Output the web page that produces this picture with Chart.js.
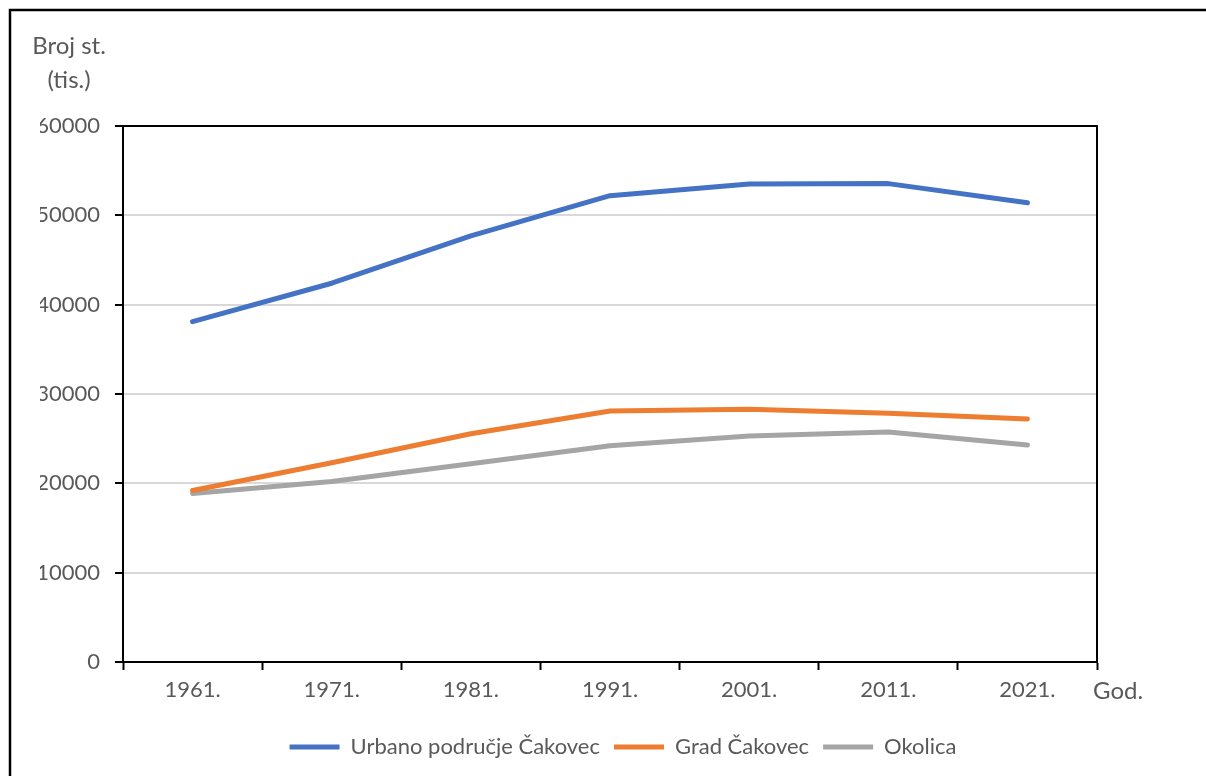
<!DOCTYPE html>
<html>
<head>
<meta charset="utf-8">
<script src="https://cdn.jsdelivr.net/npm/chart.js@4/dist/chart.umd.min.js"></script>
<style>
  html, body { margin: 0; padding: 0; background: #fff; }
  #wrap { position: relative; width: 1206px; height: 776px; }
</style>
</head>
<body>
<div id="wrap"><canvas id="popChart"></canvas></div>
<script>
  // popis stanovništva, urbano područje Čakovec
  var years = ['1961.', '1971.', '1981.', '1991.', '2001.', '2011.', '2021.'];
  var urbano = [38100, 42400, 47700, 52200, 53500, 53550, 51400];
  var grad = [19200, 22300, 25550, 28100, 28300, 27850, 27200];
  var okolica = [18850, 20200, 22200, 24200, 25300, 25750, 24300];
  var yTicks = [0, 10000, 20000, 30000, 40000, 50000, 60000];

  var FONT = 'Lato, "Open Sans", sans-serif';
  var TEXT = '#595959';
  var BLUE = '#4472C4';
  var ORANGE = '#ED7D31';
  var GREY = '#A5A5A5';

  Chart.defaults.font.family = FONT;
  Chart.defaults.font.size = 22;
  Chart.defaults.color = TEXT;

  var extras = {
    id: 'extras',
    afterDraw: function (chart) {
      var ctx = chart.ctx;
      var a = chart.chartArea;
      ctx.save();
      // okvir grafikona
      ctx.strokeStyle = '#000';
      ctx.lineWidth = 2.5;
      ctx.beginPath();
      ctx.moveTo(10, chart.height);
      ctx.lineTo(10, 10);
      ctx.lineTo(chart.width, 10);
      ctx.stroke();
      // naslovi osi
      ctx.font = '24px ' + FONT;
      ctx.fillStyle = TEXT;
      ctx.textAlign = 'center';
      ctx.textBaseline = 'middle';
      ctx.fillText('Broj st.', a.left - 54, a.top - 80);
      ctx.fillText('(tis.)', a.left - 54, a.top - 46);
      ctx.textAlign = 'left';
      ctx.fillText('God.', a.right - 4, a.bottom + 29);
      ctx.restore();
    }
  };

  function line(label, data, color) {
    return {
      label: label,
      data: data,
      borderColor: color,
      backgroundColor: color,
      borderWidth: 5,
      borderCapStyle: 'round',
      borderJoinStyle: 'round',
      pointRadius: 0,
      pointHoverRadius: 0,
      tension: 0
    };
  }

  new Chart(document.getElementById('popChart'), {
    type: 'line',
    data: {
      labels: years,
      datasets: [
        line('Urbano područje Čakovec', urbano, BLUE),
        line('Grad Čakovec', grad, ORANGE),
        line('Okolica', okolica, GREY)
      ]
    },
    options: {
      responsive: true,
      maintainAspectRatio: false,
      animation: false,
      layout: { padding: { left: 40, right: 0, top: 126, bottom: 8 } },
      plugins: {
        tooltip: { enabled: false },
        legend: {
          position: 'bottom',
          labels: {
            usePointStyle: true,
            pointStyle: 'line',
            pointStyleWidth: 50,
            padding: 14,
            font: { size: 22 },
            color: TEXT
          }
        }
      },
      scales: {
        x: {
          offset: true,
          grid: { offset: true, drawOnChartArea: false, drawTicks: true, tickLength: 8, tickColor: '#000', tickWidth: 2 },
          border: { display: true, color: '#000', width: 2 },
          ticks: { padding: 7, color: TEXT, maxRotation: 0 },
          afterFit: function (s) { s.height = 60; }
        },
        y: {
          min: 0,
          max: 60000,
          afterBuildTicks: function (s) { s.ticks = yTicks.map(function (v) { return { value: v }; }); },
          grid: {
            color: function (c) { return (c.tick && (c.tick.value === 60000 || c.tick.value === 0)) ? '#000' : '#D9D9D9'; },
            lineWidth: 2,
            tickLength: 8,
            tickColor: '#000',
            tickWidth: 2
          },
          border: { display: true, color: '#000', width: 2 },
          ticks: { padding: 15, color: TEXT, callback: function (v) { return String(v); } },
          afterFit: function (s) { s.width = 83; }
        },
        y2: {
          position: 'right',
          min: 0,
          max: 60000,
          grid: { drawOnChartArea: false, drawTicks: false },
          border: { display: true, color: '#000', width: 2 },
          ticks: { display: false },
          afterFit: function (s) { s.width = 109; }
        }
      }
    },
    plugins: [extras]
  });
</script>
</body>
</html>
